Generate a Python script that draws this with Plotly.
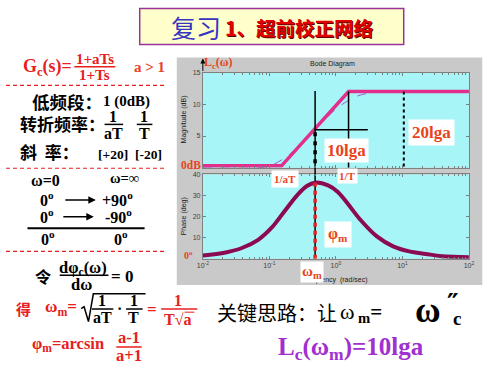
import plotly.graph_objects as go

W, H = 500, 375

# ---------------- data ----------------
asym_freq = [0.01, 0.152, 1.55, 100]
asym_mag = [0.3, 0.3, 12.0, 12.0]

exact_freq = [0.01, 0.079, 0.108, 0.151, 0.211, 0.317, 0.492, 0.764, 1.107, 1.552, 2.10, 2.95, 4.90, 100]
exact_mag = [0.0, 0.05, 0.4, 1.2, 2.3, 3.9, 6.0, 8.1, 9.6, 10.6, 11.3, 11.7, 11.95, 12.0]

phase_freq = [0.01, 0.022, 0.0386, 0.0678, 0.1064, 0.1668, 0.261, 0.366, 0.486, 0.763,
              1.07, 1.50, 2.35, 4.13, 7.26, 12.7, 22.4, 39.4, 100]
phase_deg = [1.5, 3.0, 5.1, 9.0, 14.5, 22.3, 30.1, 34.5, 36.1, 34.8,
             31.7, 26.2, 18.4, 10.6, 5.9, 3.5, 2.3, 1.2, 0.7]

w_m = 0.487        # omega_m
w_T = 1.55         # 1/T
w_20 = 10.5        # position of the 20lga marker
w_h_end = 3.02     # end of the 10lga horizontal guide
L_half = 6.0       # 10lga
L_full = 12.0      # 20lga
phi_m = 36.1

mag_ticks = [5, 10, 15]
phase_ticks = [10, 20, 30, 40]
freq_ticks = [0.01, 0.1, 1, 10, 100]
freq_ticktext = ["10<sup>-2</sup>", "10<sup>-1</sup>", "10<sup>0</sup>", "10<sup>1</sup>", "10<sup>2</sup>"]
minor_freq = [m * d for d in [0.01, 0.1, 1, 10] for m in range(2, 10)]

# ---------------- colours / fonts ----------------
PINK = "#E0308C"
MAROON = "#8C0A50"
CYAN = "#A8F5F8"
GRAY = "#C9C9C9"
RED = "#E62020"
ORED = "#E8441C"
PURPLE = "#A030D0"
SERIF = "Liberation Serif, Noto Sans CJK SC"
CJK = "Noto Sans CJK SC"
SANS = "Liberation Sans, Arial"

fig = go.Figure()

# magnitude
fig.add_trace(go.Scatter(x=exact_freq, y=exact_mag, mode="lines", line=dict(color="#9A60D0", width=1, dash="dash", shape="spline"), xaxis="x", yaxis="y"))
fig.add_trace(go.Scatter(x=asym_freq, y=asym_mag, mode="lines", line=dict(color=PINK, width=3.5), xaxis="x", yaxis="y"))
fig.add_trace(go.Scatter(x=[w_m, w_m], y=[L_full + 0.1, 0], mode="lines", line=dict(color="black", width=1.5), xaxis="x", yaxis="y"))
fig.add_trace(go.Scatter(x=[w_T, w_T], y=[L_full, 0], mode="lines", line=dict(color="black", width=1.5), xaxis="x", yaxis="y"))
fig.add_trace(go.Scatter(x=[w_m, w_h_end], y=[L_half, L_half], mode="lines", line=dict(color="black", width=1.5), xaxis="x", yaxis="y"))
fig.add_trace(go.Scatter(x=[w_m, w_m], y=[L_half - 0.4, 0], mode="lines", line=dict(color="black", width=3.5, dash="4px,5px"), xaxis="x", yaxis="y"))
fig.add_trace(go.Scatter(x=[w_20, w_20], y=[L_full, 0], mode="lines", line=dict(color="black", width=2, dash="3px,3px"), xaxis="x", yaxis="y"))

# phase
fig.add_trace(go.Scatter(x=[w_m, w_m], y=[40, 0], mode="lines", line=dict(color="black", width=1.5), xaxis="x2", yaxis="y2"))
fig.add_trace(go.Scatter(x=phase_freq, y=phase_deg, mode="lines", line=dict(color=MAROON, width=4, shape="spline"), xaxis="x2", yaxis="y2"))
fig.add_trace(go.Scatter(x=[w_m, w_m], y=[phi_m, 0], mode="lines", line=dict(color=RED, width=3.5, dash="4px,4px"), xaxis="x2", yaxis="y2"))

ax_common = dict(showline=True, linecolor="#808080", linewidth=1, mirror="ticks", ticks="inside", ticklen=3,
                 tickcolor="#808080", showgrid=False, zeroline=False,
                 tickfont=dict(family=SANS, size=7, color="#404040"))
xdom = [201.7 / W, 474.3 / W]
mag_dom = [1 - 165.5 / H, 1 - 69.3 / H]
ph_dom = [1 - 257.5 / H, 1 - 172.3 / H]

shapes = []
annotations = []


def px(x):
    return x / W


def py(y):
    return 1 - y / H


def seg(x0, y0, x1, y1, color="black", width=1.5, dash="solid"):
    shapes.append(dict(type="line", xref="paper", yref="paper", x0=px(x0), y0=py(y0), x1=px(x1), y1=py(y1),
                       line=dict(color=color, width=width, dash=dash)))


def rect_paper(x0, y0, x1, y1, fill, line_color=None, width=0, layer="below"):
    shapes.append(dict(type="rect", xref="paper", yref="paper", x0=x0, y0=y0, x1=x1, y1=y1,
                       fillcolor=fill, line=dict(color=line_color or fill, width=width), layer=layer))


def rect(x0, y0, x1, y1, fill, line_color=None, width=0, layer="below"):
    rect_paper(px(x0), py(y0), px(x1), py(y1), fill, line_color, width, layer)


def path(points, color="black", width=1.5):
    d = "M " + " L ".join(f"{px(x):.5f},{py(y):.5f}" for x, y in points)
    shapes.append(dict(type="path", xref="paper", yref="paper", path=d, line=dict(color=color, width=width)))


def txt(s, x, y, size, color="black", family=SERIF, bold=True, xanchor="center", bg=None, pad=1, angle=0, shadow=None):
    f = dict(size=size, color=color, family=family)
    if shadow:
        f["shadow"] = shadow
    a = dict(text=(f"<b>{s}</b>" if bold else s), x=px(x), y=py(y), xref="paper", yref="paper",
             xanchor=xanchor, yanchor="middle", showarrow=False, font=f, borderpad=pad, textangle=angle)
    if bg:
        a["bgcolor"] = bg
    annotations.append(a)


def arrow(xt, yt, xh, yh, color="black", width=1.5, head=2):
    annotations.append(dict(x=px(xh), y=py(yh), xref="paper", yref="paper", ax=xt - xh, ay=yt - yh,
                            axref="pixel", ayref="pixel", showarrow=True, arrowhead=head, arrowsize=1,
                            arrowwidth=width, arrowcolor=color, text=""))


# gray panel, cyan plot areas and title box
rect(175, 54, 488, 284, GRAY)
rect_paper(xdom[0], mag_dom[0], xdom[1], mag_dom[1], CYAN)
rect_paper(xdom[0], ph_dom[0], xdom[1], ph_dom[1], CYAN)
rect(137, 4.5, 407.5, 41, "#FFFFCC", "#993399", 1.5)
txt("复习", 195, 23, 25, "#3535C0", CJK, bold=False)
txt("1、超前校正网络", 300, 24, 19.5, "#E00000", CJK, shadow="1px 1px 0px #600000")

# gap part of the omega_m line
shapes.append(dict(type="line", xref="x", yref="paper", x0=w_m, x1=w_m, y0=mag_dom[0], y1=ph_dom[1],
                   line=dict(color="black", width=1.5)))

# ---- left column ----
txt("G<sub>c</sub>(s)=", 42.5, 64, 18, RED)
txt("1+aTs", 91, 56, 15, RED)
seg(70, 63.5, 112, 63.5, RED, 1.5)
txt("1+Ts", 91, 72, 15, RED)
txt("a > 1", 147, 64, 15, ORED)
seg(0, 82.3, 165, 82.3, RED, 1.2, "4px,3px")

txt("低频段：", 63, 98.3, 17.5, "black", CJK)
txt("1 (0dB)", 123.5, 98.3, 15)
txt("转折频率：", 58, 121, 17, "black", CJK)
txt("1", 110, 113.5, 16)
seg(101, 121.7, 120, 121.7, "black", 1.5)
txt("aT", 110.5, 130.5, 16)
txt("1", 141.5, 113.5, 16)
seg(134, 121.7, 150, 121.7, "black", 1.5)
txt("T", 141.5, 130.5, 16)
txt("斜\u00a0\u00a0率：", 45, 149.3, 17, "black", CJK)
txt("[+20]\u00a0\u00a0[-20]", 127.5, 151.7, 13.5)
seg(0, 166, 165, 166, RED, 1.2, "4px,3px")

txt("ω=0", 40.5, 178.3, 16)
txt("ω=∞", 121.5, 176, 14.5)
txt("0<sup>o</sup>", 42, 197.5, 16)
arrow(60, 198, 92, 198)
txt("+90<sup>o</sup>", 114, 197.5, 16)
txt("0<sup>o</sup>", 42.5, 214.5, 16)
arrow(58, 215, 90, 215)
txt("-90<sup>o</sup>", 115, 214.5, 16)
seg(22, 226.7, 142, 226.7, "black", 2)
txt("0<sup>o</sup>", 43, 237, 16)
txt("0<sup>o</sup>", 117.5, 237, 16)
seg(0, 250, 163, 250, RED, 1.2, "4px,3px")

txt("令", 37.5, 275, 16, "black", CJK)
txt("dφ<sub>c</sub>(ω)", 78.5, 266.5, 16.5)
seg(55, 274.3, 105, 274.3, "black", 1.5)
txt("dω", 77.5, 284, 16.5)
txt("= 0", 119, 275.7, 17)

txt("得", 18, 308, 15, RED, CJK)
txt("ω<sub>m</sub>=", 56, 307.5, 17, RED)
path([(77, 308), (80, 306), (84.5, 321), (89.5, 293), (143, 293)], "black", 1.5)
txt("1", 98.5, 300, 16)
seg(88, 308.3, 110, 308.3, "black", 1.5)
txt("aT", 99, 316.5, 16)
txt("·", 116.5, 308, 16)
txt("1", 131, 300, 16)
seg(123, 308.3, 140, 308.3, "black", 1.5)
txt("T", 131, 316.5, 16)
txt("=", 150, 309, 17, RED)
txt("1", 176, 300, 16, RED)
seg(159, 308.3, 196, 308.3, RED, 1.5)
txt("T√a", 176, 318.5, 16, RED)
seg(183, 311.5, 193, 311.5, RED, 1)

txt("φ<sub>m</sub>=arcsin", 64, 344, 16.5, RED)
txt("a-1", 126, 336.7, 16.5, RED)
seg(113, 346.7, 139, 346.7, RED, 1.5)
txt("a+1", 126, 355.5, 16.5, RED)

# ---- right text ----
txt("关键思路：让", 278, 311.7, 20, "black", CJK, bold=False)
txt("ω", 349, 311, 22, bold=False)
txt("<sub>m</sub>=", 359, 312, 21, xanchor="left")
txt("ω", 432, 310, 35)
txt("″", 458, 302, 26, family="DejaVu Serif")
txt("c", 462, 318, 19)
txt("L<sub>c</sub>(ω<sub>m</sub>)=10lga", 353.5, 348, 25, PURPLE)

# ---- chart labels ----
arrow(201.7, 69, 201.7, 55, "black", 1, 2)
txt("L<sub>c</sub>(ω)", 218, 59.5, 12, ORED)
txt("Bode Diagram", 335, 61, 7, "#202020", SANS, bold=False)
txt("Magnitude (dB)", 182, 117, 7, "#202020", SANS, bold=False, angle=-90)
txt("Phase (deg)", 182, 215, 7, "#202020", SANS, bold=False, angle=-90)
txt("Frequency  (rad/sec)", 338, 279, 7, "#202020", SANS, bold=False)
txt("0dB", 190, 163, 11.5, ORED)
txt("1/aT", 286, 176.5, 11, ORED, bg="white", pad=2)
txt("1/T", 350, 173.5, 11, ORED, bg="white", pad=1)
txt("10lga", 348.5, 148, 17, ORED, bg="white", pad=2)
txt("20lga", 435.5, 130, 17, ORED, bg="white", pad=3)
txt("φ<sub>m</sub>", 340, 233, 16, ORED, bg="white", pad=3)
txt("ω<sub>m</sub>", 314, 271, 15, ORED, bg="white", pad=1)
txt("0<sup>o</sup>", 187, 254, 10, ORED)

fig.update_layout(
    width=W, height=H, margin=dict(l=0, r=0, t=0, b=0),
    paper_bgcolor="white", plot_bgcolor=CYAN, showlegend=False,
    xaxis=dict(type="log", range=[-2, 2], domain=xdom, anchor="y", showticklabels=False, tickvals=freq_ticks,
               minor=dict(ticks="inside", ticklen=2, tickcolor="#808080", tickvals=minor_freq, showgrid=False), **ax_common),
    yaxis=dict(range=[0, 15], domain=mag_dom, anchor="x", tickvals=mag_ticks, **ax_common),
    xaxis2=dict(type="log", range=[-2, 2], domain=xdom, anchor="y2", tickvals=freq_ticks, ticktext=freq_ticktext,
                minor=dict(ticks="inside", ticklen=2, tickcolor="#808080", tickvals=minor_freq, showgrid=False), **ax_common),
    yaxis2=dict(range=[0, 40], domain=ph_dom, anchor="x2", tickvals=phase_ticks, **ax_common),
    shapes=shapes, annotations=annotations,
)

fig.write_html("out.html", config={"displayModeBar": False},
               post_script="document.body.style.margin='0px';")
